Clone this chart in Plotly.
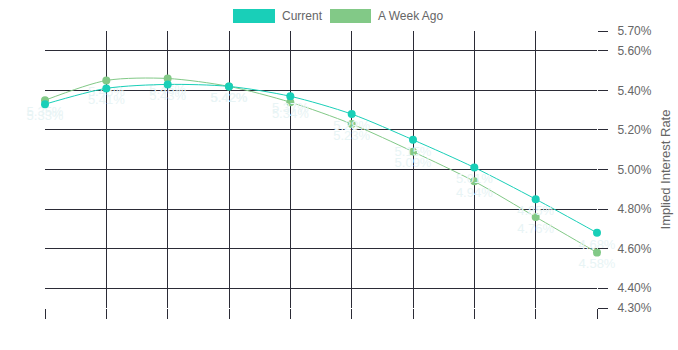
import plotly.graph_objects as go

meetings = [1, 2, 3, 4, 5, 6, 7, 8, 9, 10]
current = [5.33, 5.41, 5.43, 5.42, 5.37, 5.28, 5.15, 5.01, 4.85, 4.68]
week_ago = [5.35, 5.45, 5.46, 5.42, 5.34, 5.23, 5.09, 4.94, 4.76, 4.58]
y_ticks = [4.3, 4.4, 4.6, 4.8, 5.0, 5.2, 5.4, 5.6, 5.7]
series_names = ["Current", "A Week Ago"]

c_cur = "#19cfb8"
c_wk = "#82c987"
label_color = "#e8f4f5"
FONT = "Liberation Sans, Arial, Helvetica"

fig = go.Figure()
for name, vals, col in [(series_names[1], week_ago, c_wk), (series_names[0], current, c_cur)]:
    fig.add_trace(go.Scatter(
        x=meetings, y=vals, mode="lines+markers+text", name=name,
        line=dict(color=col, width=1, shape="spline", smoothing=0.8),
        marker=dict(color=col, size=8),
        text=[f"{v:.2f}%" for v in vals], textposition="bottom center",
        textfont=dict(color=label_color, size=13, family=FONT),
        showlegend=False, cliponaxis=False,
    ))

# legend drawn as rectangles + labels above the plot
L, R, T, B = 45, 597, 31, 308
W, H = R - L, B - T
def px(x):
    return (x - L) / W
def py(y):
    return 1 + (T - y) / H

legend_items = [(series_names[0], c_cur, 233, 275), (series_names[1], c_wk, 330, 371)]
for name, col, x0, x1 in legend_items:
    fig.add_shape(type="rect", xref="paper", yref="paper",
                  x0=px(x0), x1=px(x1), y0=py(23), y1=py(9),
                  fillcolor=col, line=dict(width=0))
    fig.add_annotation(text=name, xref="paper", yref="paper", x=px(x1 + 5), y=py(16),
                       xanchor="left", yanchor="middle", showarrow=False,
                       font=dict(size=12, color="#666", family=FONT))

fig.update_layout(
    width=678, height=350,
    margin=dict(l=L, r=678 - R, t=T, b=350 - B, autoexpand=False),
    paper_bgcolor="white", plot_bgcolor="white",
    font=dict(family=FONT, color="#666", size=12),
    showlegend=False,
)
fig.update_xaxes(range=[1, 10], tickvals=meetings, showticklabels=False,
                 showgrid=True, gridcolor="#2b2b36", gridwidth=1,
                 ticks="outside", ticklen=10, tickcolor="#2b2b36",
                 zeroline=False, showline=False)
fig.update_yaxes(range=[4.3, 5.7], side="right", tickvals=y_ticks,
                 ticktext=[f"{v:.2f}%" for v in y_ticks],
                 showgrid=True, gridcolor="#2b2b36", gridwidth=1,
                 ticks="outside", ticklen=10, tickcolor="#2b2b36",
                 ticklabelstandoff=7,
                 tickfont=dict(size=12, color="#666"),
                 title=dict(text="Implied Interest Rate", font=dict(size=13, color="#666"), standoff=10),
                 zeroline=False, showline=False)

fig.write_html("out.html")
